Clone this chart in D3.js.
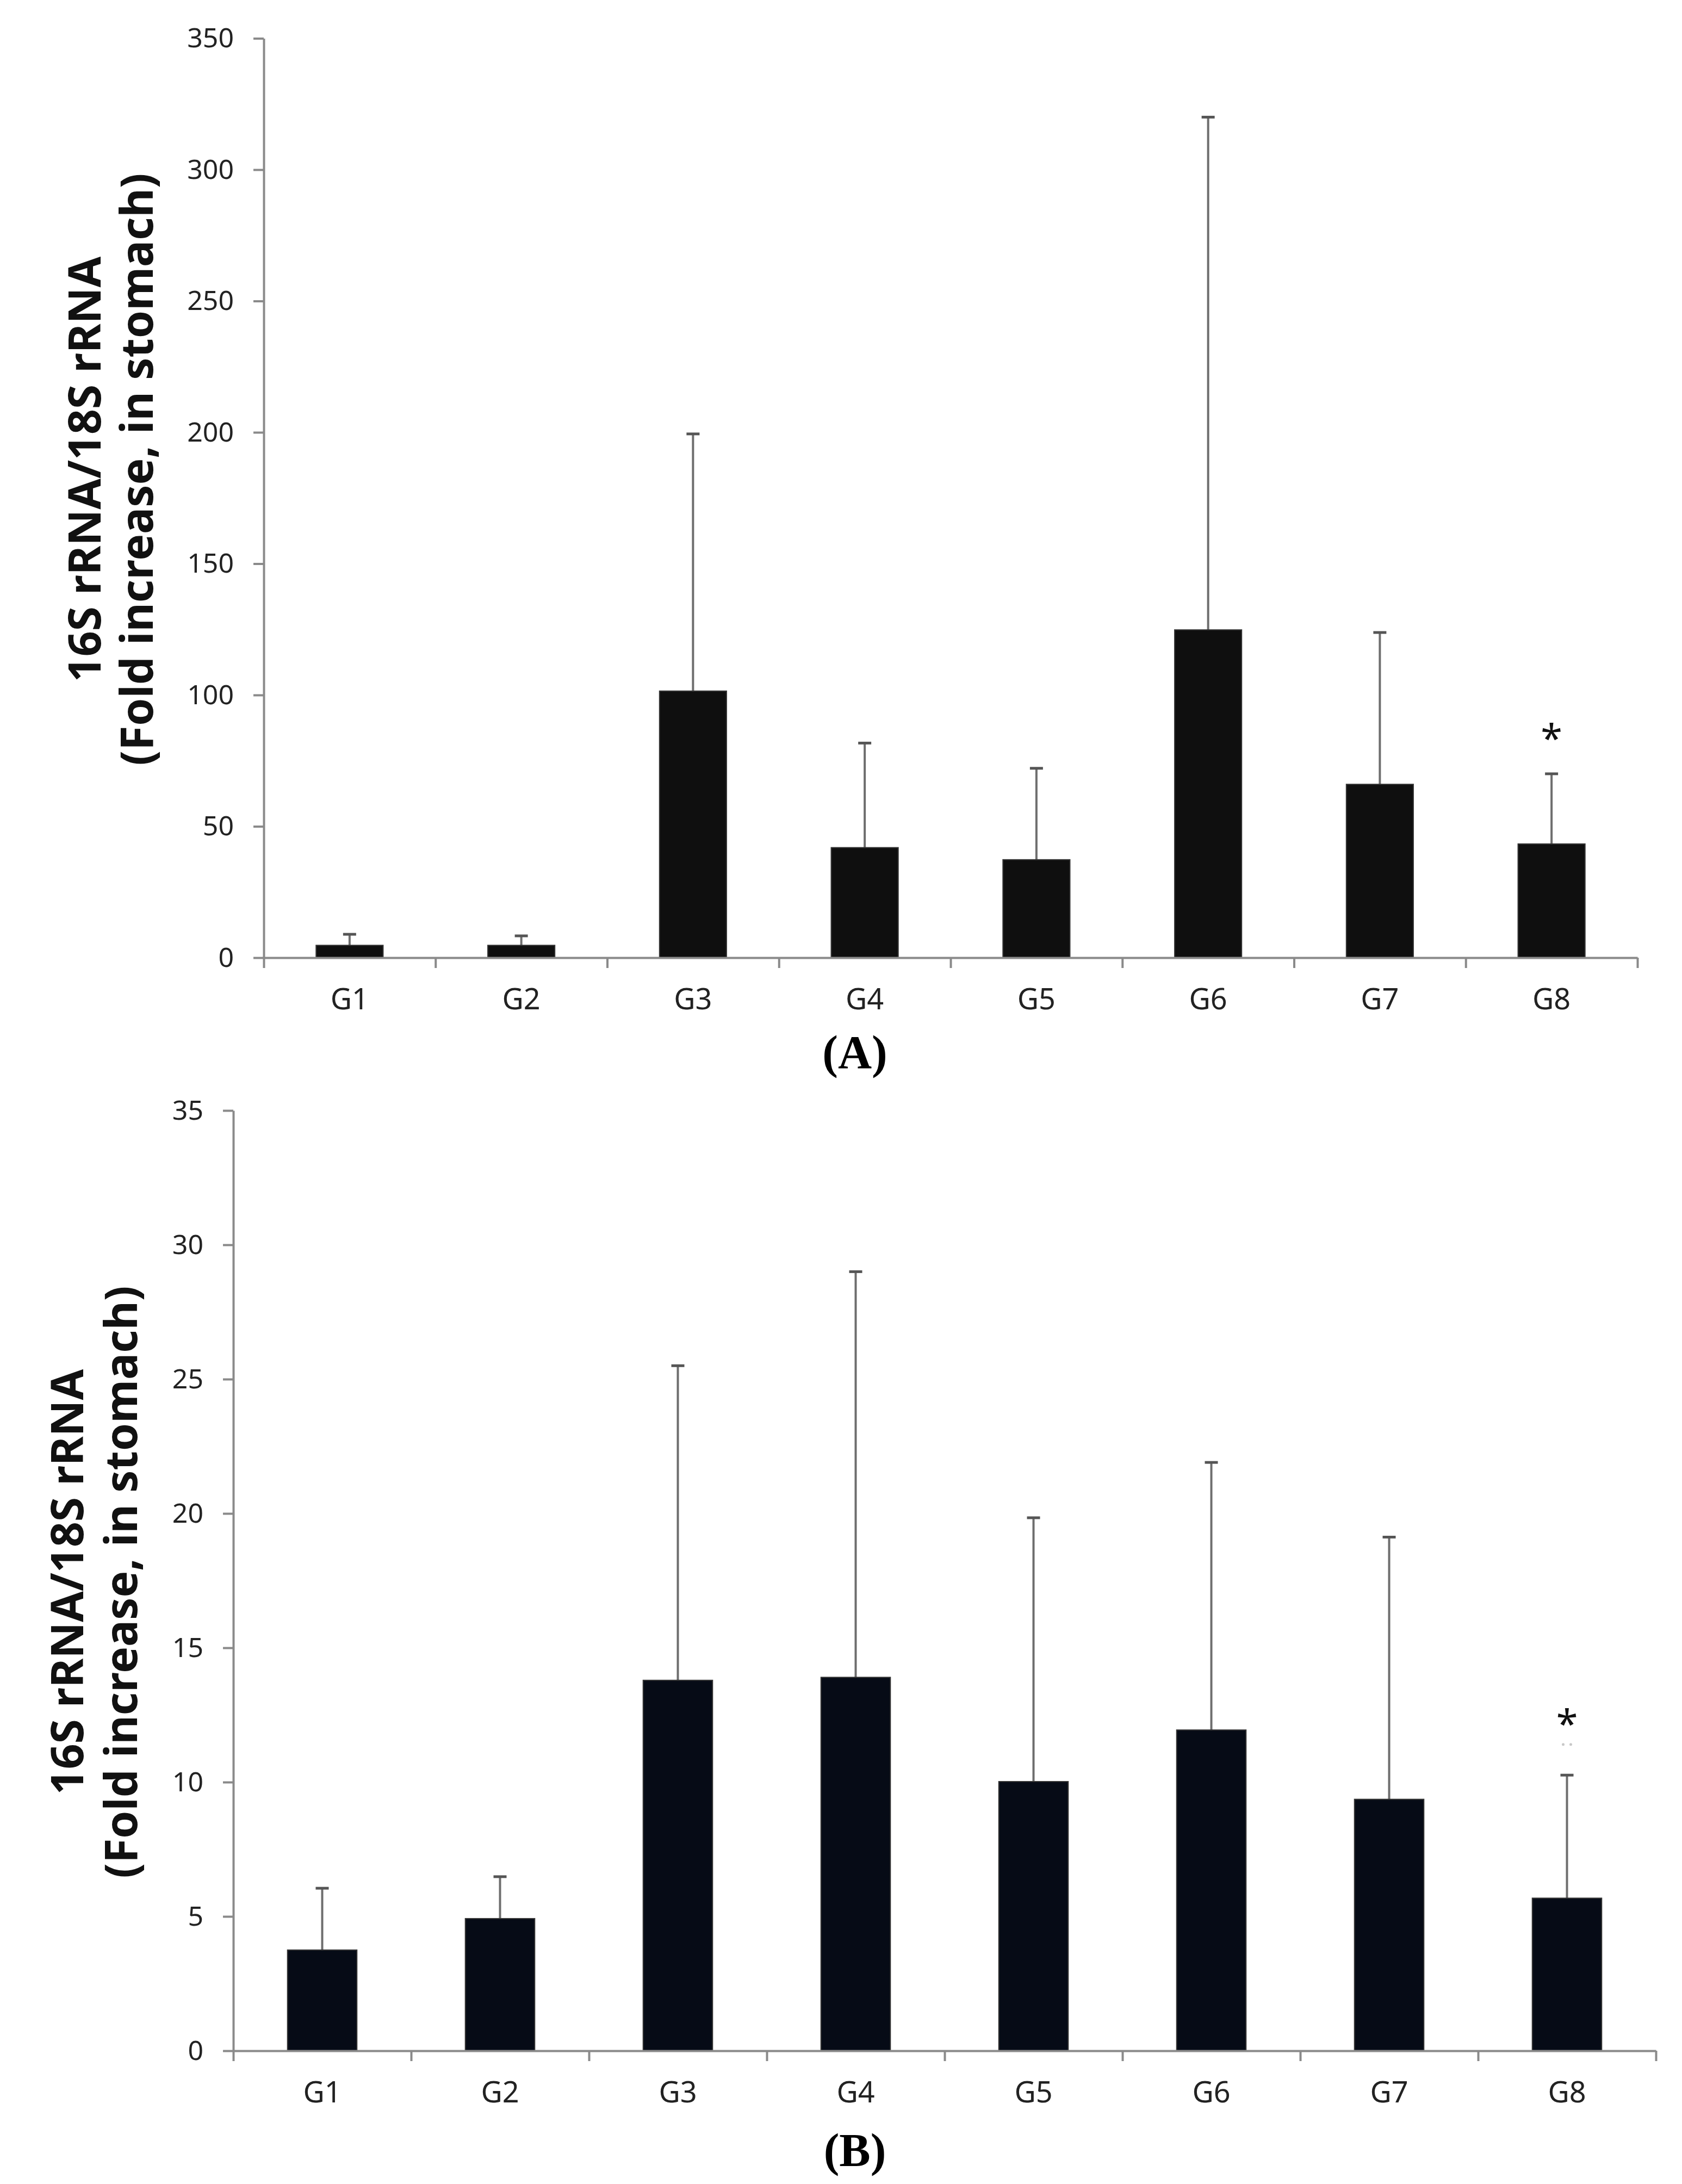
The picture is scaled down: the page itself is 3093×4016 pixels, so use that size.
<!DOCTYPE html>
<html lang='en'>
	<head>
		<meta charset='utf-8'>
		<title>16S rRNA / 18S rRNA in stomach</title>
		<script type='text/javascript' src='https://cdn.jsdelivr.net/npm/d3@7'></script>
		<style>
			body { margin: 0; background: #fff; }
			text { font-family: 'Noto Sans', 'Open Sans', sans-serif; }
		</style>
	</head>
	<body>
	</body>
	<script type='text/javascript'>
	var groups = ['G1', 'G2', 'G3', 'G4', 'G5', 'G6', 'G7', 'G8'];

	// panel A (mean and top of the error bar)
	var meanA = [4.7, 4.7, 101.5, 41.9, 37.3, 124.8, 66.0, 43.3];
	var errTopA = [8.9, 8.3, 199.4, 81.7, 72.1, 320, 123.8, 70];
	var ticksA = [0, 50, 100, 150, 200, 250, 300, 350];

	// panel B
	var meanB = [3.75, 4.92, 13.79, 13.9, 10.02, 11.94, 9.36, 5.68];
	var errTopB = [6.05, 6.48, 25.5, 29.0, 19.84, 21.9, 19.12, 10.26];
	var ticksB = [0, 5, 10, 15, 20, 25, 30, 35];

	var starA = { group: 'G8', value: 86 };
	var starB = { group: 'G8', value: 12.4 };

	var width = 3093, height = 4016;
	var svg = d3.select('body').append('svg').attr('width', width).attr('height', height)
	svg.append('rect').attr('width', width).attr('height', height).attr('fill', '#fff')

	function drawPanel(p) {
		var g = svg.append('g')
		var x = d3.scaleBand().domain(groups).range([p.left, p.right]).padding(0);
		var edge = d3.scaleLinear().domain([0, groups.length]).range([p.left, p.right]);
		var y = d3.scaleLinear().domain([0, d3.max(p.ticks)]).range([p.bottom, p.top]);
		var bw = x.bandwidth() * 0.39;

		var data = groups.map(function(d, i) { return { g: d, mean: p.mean[i], top: p.errTop[i] }; });

		// error bars (upper only)
		var eb = g.selectAll('.err').data(data).enter().append('g').attr('class', 'err')
		eb.append('line')
			.attr('x1', d => x(d.g) + x.bandwidth()/2).attr('x2', d => x(d.g) + x.bandwidth()/2)
			.attr('y1', d => y(d.mean)).attr('y2', d => y(d.top))
			.attr('stroke', '#6e6e6e').attr('stroke-width', 4)
		eb.append('line')
			.attr('x1', d => x(d.g) + x.bandwidth()/2 - 12).attr('x2', d => x(d.g) + x.bandwidth()/2 + 12)
			.attr('y1', d => y(d.top)).attr('y2', d => y(d.top))
			.attr('stroke', '#555').attr('stroke-width', 5)

		g.selectAll('.bar').data(data).enter().append('rect')
			.attr('x', d => x(d.g) + (x.bandwidth() - bw)/2)
			.attr('y', d => y(d.mean))
			.attr('width', bw)
			.attr('height', d => y(0) - y(d.mean))
			.attr('fill', p.barColor)
			.attr('stroke', '#333').attr('stroke-width', 2)

		// y axis
		var ya = g.append('g').attr('transform', 'translate(' + p.left + ',0)')
			.call(d3.axisLeft(y).tickValues(p.ticks).tickSize(19).tickSizeOuter(0).tickPadding(36))
		ya.selectAll('path, line').attr('stroke', '#8a8a8a').attr('stroke-width', 4)
		ya.selectAll('text').attr('font-size', 50).attr('fill', '#222')

		// x axis: ticks between groups
		var xa = g.append('g').attr('transform', 'translate(0,' + p.bottom + ')')
			.call(d3.axisBottom(edge).tickValues(d3.range(groups.length + 1)).tickSize(19).tickSizeOuter(0).tickFormat(''))
		xa.selectAll('path, line').attr('stroke', '#8a8a8a').attr('stroke-width', 4)

		var xl = g.append('g').attr('transform', 'translate(0,' + p.bottom + ')')
			.call(d3.axisBottom(x).tickSize(0).tickPadding(57))
		xl.select('.domain').remove()
		xl.selectAll('text').attr('font-size', 54).attr('fill', '#222')

		// y title
		g.append('text').text('16S rRNA/18S rRNA')
			.attr('transform', 'translate(' + p.title1 + ',' + p.titleY + ')rotate(-90)')
			.attr('text-anchor', 'middle').attr('font-size', 82).attr('font-weight', 'bold').attr('fill', '#111')
		g.append('text').text('(Fold increase, in stomach)')
			.attr('transform', 'translate(' + p.title2 + ',' + p.titleY + ')rotate(-90)')
			.attr('text-anchor', 'middle').attr('font-size', 82).attr('font-weight', 'bold').attr('fill', '#111')

		// significance star
		g.append('text').text('*')
			.attr('x', x(p.star.group) + x.bandwidth()/2)
			.attr('y', y(p.star.value) + 37)
			.attr('text-anchor', 'middle').attr('font-size', 72).attr('fill', '#111')

		// panel letter
		g.append('text').text(p.letter)
			.attr('x', 1572).attr('y', p.letterY)
			.attr('text-anchor', 'middle').attr('font-size', 86).attr('font-weight', 'bold')
			.style('font-family', "'Liberation Serif', 'DejaVu Serif', serif").attr('fill', '#000')

		return { x: x, y: y };
	}

	drawPanel({ left: 485, right: 3011, top: 70.5, bottom: 1761, ticks: ticksA,
		mean: meanA, errTop: errTopA, barColor: '#0f0f0f', star: starA,
		title1: 185, title2: 281, titleY: 863, letter: '(A)', letterY: 1964 });

	var pB = drawPanel({ left: 429, right: 3045, top: 2042, bottom: 3771, ticks: ticksB,
		mean: meanB, errTop: errTopB, barColor: '#060b16', star: starB,
		title1: 153, title2: 252, titleY: 2909, letter: '(B)', letterY: 3983 });

	// faint dots under the star in B
	var cx = pB.x('G8') + pB.x.bandwidth()/2;
	svg.selectAll('.dot').data([-7, 7]).enter().append('circle')
		.attr('cx', d => cx + d).attr('cy', pB.y(11.4))
		.attr('r', 2.5).attr('fill', '#c8c8c8')
	</script>
</html>
